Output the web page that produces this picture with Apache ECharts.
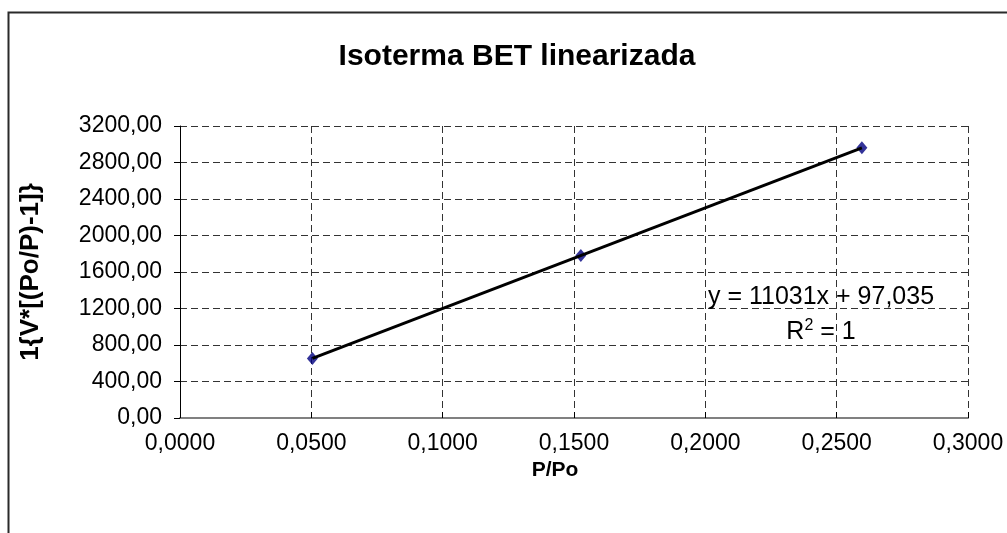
<!DOCTYPE html>
<html>
<head>
<meta charset="utf-8">
<script src="https://cdn.jsdelivr.net/npm/echarts@6/dist/echarts.min.js"></script>
<style>
  html, body { margin: 0; padding: 0; background: #fff; }
  #chart { width: 1007px; height: 533px; }
</style>
</head>
<body>
<div id="chart"></div>
<script>
// BET linearised isotherm: relative pressure vs 1/{V*[(Po/P)-1]}
const relPressure = [0.0504, 0.1526, 0.2596];
const betValues = [653, 1780, 2961];

// Linear trendline parameters shown in the equation label
const trendSlope = 11031;
const trendIntercept = 97.035;
const trendR2 = 1;

const xTicks = { min: 0, max: 0.3, interval: 0.05 };
const yTicks = { min: 0, max: 3200, interval: 400 };

const FONT = "'Liberation Sans', Arial, sans-serif";

const points = relPressure.map((x, i) => [x, betValues[i]]);
const xLo = Math.min(...relPressure);
const xHi = Math.max(...relPressure);
const trendPoints = [xLo, xHi].map(x => [x, trendSlope * x + trendIntercept]);

const fmt = (v, d) => v.toFixed(d).replace('.', ',');
const slopeText = String(trendSlope);
const interceptText = String(trendIntercept).replace('.', ',');

const chart = echarts.init(document.getElementById('chart'), null, { renderer: 'canvas' });

chart.setOption({
  backgroundColor: '#ffffff',
  animation: false,
  title: {
    text: 'Isoterma BET linearizada',
    left: 512,
    textAlign: 'center',
    top: 37,
    textStyle: { fontFamily: FONT, fontSize: 30, fontWeight: 'bold', color: '#000' }
  },
  grid: { left: 180, right: 39, top: 126, bottom: 115, containLabel: false },
  xAxis: {
    type: 'value',
    min: xTicks.min, max: xTicks.max, interval: xTicks.interval,
    name: 'P/Po',
    nameLocation: 'middle',
    nameGap: 42,
    nameTextStyle: {
      fontFamily: FONT, fontSize: 21, fontWeight: 'bold', color: '#000',
      padding: [0, 38, 0, 0]
    },
    axisLine: { show: true, onZero: false, lineStyle: { color: '#808080', width: 2 } },
    axisTick: { show: true, inside: true, length: 6, lineStyle: { color: '#000', width: 1 } },
    axisLabel: {
      margin: 14,
      fontFamily: FONT, fontSize: 23, color: '#000',
      formatter: v => fmt(v, 4)
    },
    splitLine: { show: true, lineStyle: { color: '#333', width: 1, type: [7, 4] } }
  },
  yAxis: {
    type: 'value',
    min: yTicks.min, max: yTicks.max, interval: yTicks.interval,
    name: '1{V*[(Po/P)-1]}',
    nameLocation: 'middle',
    nameGap: 136,
    nameTextStyle: { fontFamily: FONT, fontSize: 26, fontWeight: 'bold', color: '#000' },
    axisLine: { show: true, onZero: false, lineStyle: { color: '#000', width: 1 } },
    axisTick: { show: true, length: 6, lineStyle: { color: '#000', width: 1 } },
    axisLabel: {
      margin: 18,
      fontFamily: FONT, fontSize: 23, color: '#000',
      formatter: v => fmt(v, 2)
    },
    splitLine: { show: true, lineStyle: { color: '#333', width: 1, type: [7, 4] } }
  },
  series: [
    {
      name: 'Tendencia lineal',
      type: 'line',
      data: trendPoints,
      showSymbol: false,
      symbol: 'none',
      lineStyle: { color: '#000', width: 3 },
      z: 3
    },
    {
      name: 'BET',
      type: 'scatter',
      data: points,
      symbol: 'diamond',
      symbolSize: [11, 13],
      itemStyle: { color: '#000080' },
      z: 2
    }
  ],
  graphic: [
    {
      type: 'polyline',
      shape: { points: [[8.5, 533], [8.5, 12.5], [1007, 12.5]] },
      style: { stroke: '#2a2a2a', lineWidth: 2, fill: null },
      silent: true
    },
    {
      type: 'text',
      x: 821,
      y: 297,
      style: {
        text: 'y = ' + slopeText + 'x + ' + interceptText,
        fontFamily: FONT, fontSize: 25, fill: '#000',
        align: 'center', verticalAlign: 'middle'
      },
      z: 10
    },
    {
      type: 'text',
      x: 821,
      y: 331,
      style: {
        text: '{b|R}{s|2}{b| = ' + trendR2 + '}',
        fontFamily: FONT, fontSize: 25, fill: '#000',
        align: 'center', verticalAlign: 'middle',
        rich: {
          b: { fontFamily: FONT, fontSize: 25, fill: '#000', verticalAlign: 'bottom' },
          s: { fontFamily: FONT, fontSize: 16, fill: '#000', verticalAlign: 'top', padding: [0, 0, 11, 0] }
        }
      },
      z: 10
    }
  ]
});
</script>
</body>
</html>
